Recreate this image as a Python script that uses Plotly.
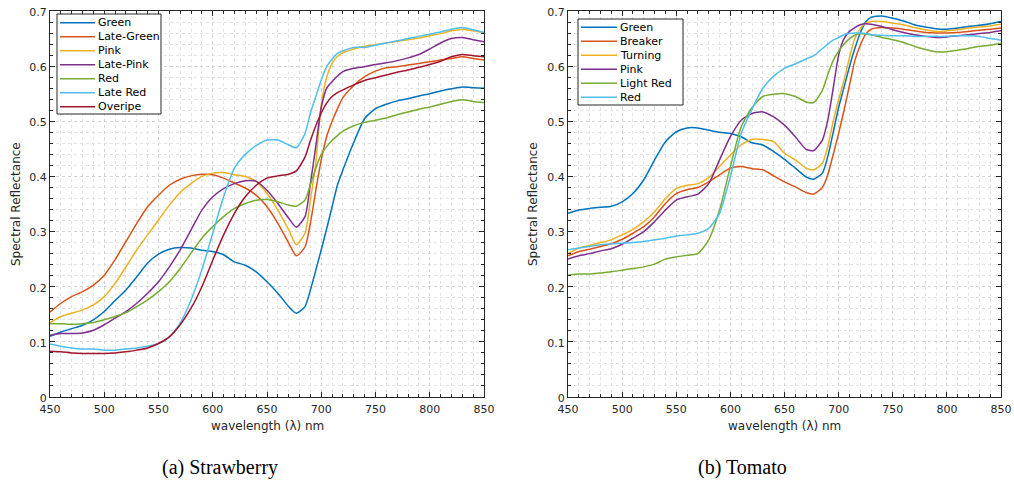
import plotly.graph_objects as go

# ---------------- Strawberry data ----------------
wl_straw = [450, 460, 470, 480, 490, 500, 510, 520, 530, 540, 550, 560, 570, 580, 590,
            600, 610, 620, 630, 640, 650, 660, 670, 677, 685, 690, 695, 700, 705, 710,
            715, 720, 730, 740, 750, 760, 770, 780, 790, 800, 810, 820, 830, 840, 850]

s_green = [.110, .118, .124, .130, .140, .155, .175, .194, .218, .243, .259, .268, .271, .270, .266,
           .264, .258, .245, .239, .227, .209, .188, .164, .152, .164, .194, .230, .267, .305, .345,
           .385, .412, .462, .505, .523, .531, .537, .541, .546, .550, .555, .559, .562, .561, .560]
s_late_green = [.154, .170, .182, .191, .203, .221, .249, .282, .315, .345, .366, .384, .395, .401, .404,
                .403, .397, .388, .379, .366, .345, .315, .279, .256, .272, .315, .375, .430, .472, .500,
                .523, .543, .565, .581, .591, .597, .599, .602, .605, .608, .611, .614, .617, .614, .611]
s_pink = [.135, .146, .152, .158, .167, .182, .206, .236, .267, .294, .321, .348, .371, .387, .400,
          .406, .407, .403, .400, .391, .369, .339, .303, .276, .297, .357, .425, .530, .580, .605,
          .618, .624, .631, .636, .639, .642, .645, .648, .651, .655, .659, .664, .667, .664, .661]
s_late_pink = [.112, .115, .115, .116, .121, .131, .143, .155, .170, .188, .209, .236, .267, .303, .339,
               .363, .378, .387, .392, .391, .375, .351, .324, .308, .327, .387, .455, .525, .560, .572,
               .582, .590, .596, .599, .603, .606, .610, .615, .621, .631, .642, .650, .652, .648, .644]
s_red = [.133, .133, .132, .133, .135, .140, .146, .153, .164, .176, .191, .209, .233, .261, .288,
         .309, .327, .342, .351, .357, .358, .354, .348, .346, .357, .385, .415, .440, .454, .465,
         .474, .482, .492, .498, .502, .506, .512, .517, .522, .526, .531, .536, .539, .536, .534]
s_late_red = [.096, .092, .089, .087, .087, .085, .085, .087, .089, .092, .097, .109, .134, .176, .231,
              .297, .363, .415, .440, .456, .466, .466, .457, .452, .478, .515, .545, .575, .599, .613,
              .623, .628, .634, .634, .638, .642, .646, .650, .654, .658, .662, .667, .670, .666, .661]
s_overipe = [.083, .082, .080, .079, .079, .079, .080, .082, .085, .089, .097, .109, .131, .161, .200,
             .248, .294, .333, .363, .384, .397, .401, .404, .410, .435, .465, .492, .515, .533, .545,
             .552, .557, .566, .574, .579, .584, .589, .593, .598, .603, .609, .617, .621, .619, .617]

straw_names = ["Green", "Late-Green", "Pink", "Late-Pink", "Red", "Late Red", "Overipe"]
straw_series = [s_green, s_late_green, s_pink, s_late_pink, s_red, s_late_red, s_overipe]

# ---------------- Tomato data ----------------
wl_tom = [450, 460, 470, 480, 490, 500, 510, 520, 530, 540, 550, 560, 570, 580, 590,
          600, 610, 620, 630, 640, 650, 660, 670, 677, 685, 690, 695, 700, 705, 710,
          715, 720, 725, 730, 740, 750, 760, 770, 780, 790, 800, 810, 820, 830, 840, 850]

t_green = [.333, .339, .342, .344, .346, .354, .369, .394, .430, .463, .481, .488, .488, .484, .480,
           .478, .472, .461, .457, .445, .431, .415, .399, .395, .406, .436, .480, .525, .562, .599,
           .632, .660, .680, .689, .691, .687, .682, .675, .671, .668, .667, .669, .672, .674, .677, .681]
t_breaker = [.256, .264, .268, .273, .278, .286, .297, .309, .327, .351, .369, .376, .380, .390, .403,
             .415, .418, .414, .412, .401, .390, .381, .371, .368, .380, .403, .440, .478, .520, .565,
             .610, .638, .658, .667, .670, .669, .667, .664, .661, .660, .660, .661, .663, .665, .667, .669]
t_turning = [.260, .270, .275, .280, .285, .294, .304, .318, .336, .360, .378, .384, .387, .398, .418,
             .439, .457, .467, .467, .463, .442, .430, .415, .412, .424, .454, .500, .539, .575, .615,
             .650, .668, .678, .681, .681, .678, .675, .670, .666, .663, .664, .666, .669, .671, .673, .676]
t_pink = [.250, .256, .260, .265, .269, .277, .288, .300, .318, .339, .357, .363, .368, .387, .430,
          .472, .502, .514, .517, .508, .493, .472, .449, .447, .466, .502, .560, .620, .650, .663,
          .670, .675, .677, .676, .672, .666, .661, .657, .654, .652, .653, .655, .657, .659, .661, .664]
t_light_red = [.221, .223, .223, .225, .227, .230, .233, .236, .241, .250, .254, .257, .260, .285, .339,
               .418, .490, .525, .545, .549, .550, .545, .535, .534, .556, .585, .610, .627, .640, .650,
               .656, .659, .658, .657, .652, .648, .643, .636, .630, .626, .626, .629, .632, .636, .638, .641]
t_red = [.267, .270, .273, .276, .278, .279, .280, .282, .285, .288, .292, .294, .297, .306, .333,
         .400, .478, .522, .560, .582, .596, .604, .613, .619, .632, .640, .647, .652, .657, .659,
         .660, .660, .659, .657, .656, .655, .655, .654, .654, .654, .654, .655, .655, .654, .650, .647]

tom_names = ["Green", "Breaker", "Turning", "Pink", "Light Red", "Red"]
tom_series = [t_green, t_breaker, t_turning, t_pink, t_light_red, t_red]

colors = ["#0072BD", "#D95319", "#EDB120", "#7E2F8E", "#77AC30", "#4DBEEE", "#A2142F"]

x_ticks = [450, 500, 550, 600, 650, 700, 750, 800, 850]
y_ticks = [0, 0.1, 0.2, 0.3, 0.4, 0.5, 0.6, 0.7]
y_tick_text = ["0", "0.1", "0.2", "0.3", "0.4", "0.5", "0.6", "0.7"]

fig = go.Figure()

for name, ys, c in zip(straw_names, straw_series, colors):
    fig.add_trace(go.Scatter(x=wl_straw, y=ys, name=name, mode="lines", showlegend=False,
                             line=dict(color=c, width=1.5, shape="spline", smoothing=0.6),
                             xaxis="x", yaxis="y"))
for name, ys, c in zip(tom_names, tom_series, colors):
    fig.add_trace(go.Scatter(x=wl_tom, y=ys, name=name, mode="lines", showlegend=False,
                             line=dict(color=c, width=1.5, shape="spline", smoothing=0.6),
                             xaxis="x2", yaxis="y2"))

W, H = 1014, 489
axc = "#262626"
tickfont = dict(family="DejaVu Sans", size=11, color=axc)


def xax(domain, anchor):
    return dict(domain=domain, anchor=anchor, range=[450, 850], tickvals=x_ticks,
                showline=True, linecolor=axc, linewidth=1, mirror="ticks",
                ticks="inside", ticklen=5, tickcolor=axc, tickfont=tickfont,
                ticklabelstandoff=2,
                showgrid=True, gridcolor="#d4d4d4", griddash="dot", gridwidth=1,
                zeroline=False, automargin=False, ticklabeloverflow="allow",
                minor=dict(dtick=10, ticks="inside", ticklen=3, tickcolor=axc,
                           showgrid=True, gridcolor="#e4e4e4", griddash="dot", gridwidth=1))


def yax(domain, anchor):
    return dict(domain=domain, anchor=anchor, range=[0, 0.7], tickvals=y_ticks, ticktext=y_tick_text,
                showline=True, linecolor=axc, linewidth=1, mirror="ticks",
                ticks="inside", ticklen=5, tickcolor=axc, tickfont=tickfont,
                ticklabelshift=1,
                showgrid=True, gridcolor="#d4d4d4", griddash="dot", gridwidth=1,
                zeroline=False, automargin=False, ticklabeloverflow="allow",
                minor=dict(dtick=0.02, ticks="inside", ticklen=3, tickcolor=axc,
                           showgrid=True, gridcolor="#e4e4e4", griddash="dot", gridwidth=1))


ytop = 1 - 11 / H
ybot = 1 - 397 / H
xd1 = [50 / W, 484 / W]
xd2 = [568 / W, 1001 / W]

fig.update_layout(
    width=W, height=H,
    margin=dict(l=0, r=0, t=0, b=0, autoexpand=False),
    paper_bgcolor="white", plot_bgcolor="white",
    xaxis=xax(xd1, "y"), yaxis=yax([ybot, ytop], "x"),
    xaxis2=xax(xd2, "y2"), yaxis2=yax([ybot, ytop], "x2"),
    showlegend=False,
)

ann_font = dict(family="DejaVu Sans", size=12, color=axc)
cap_font = dict(family="Liberation Serif", size=20, color="#000000")
leg_font = dict(family="DejaVu Sans", size=11, color="#000000")

annotations = [
    dict(text="wavelength (λ) nm", x=(xd1[0] + xd1[1]) / 2, y=1 - 426 / H, xref="paper", yref="paper",
         showarrow=False, font=ann_font, xanchor="center", yanchor="middle"),
    dict(text="wavelength (λ) nm", x=(xd2[0] + xd2[1]) / 2, y=1 - 426 / H, xref="paper", yref="paper",
         showarrow=False, font=ann_font, xanchor="center", yanchor="middle"),
    dict(text="Spectral Reflectance", x=16 / W, y=(ybot + ytop) / 2, xref="paper", yref="paper",
         showarrow=False, font=ann_font, textangle=-90, xanchor="center", yanchor="middle"),
    dict(text="Spectral Reflectance", x=533 / W, y=(ybot + ytop) / 2, xref="paper", yref="paper",
         showarrow=False, font=ann_font, textangle=-90, xanchor="center", yanchor="middle"),
    dict(text="(a) Strawberry", x=220 / W, y=1 - 467 / H, xref="paper", yref="paper",
         showarrow=False, font=cap_font, xanchor="center", yanchor="middle"),
    dict(text="(b) Tomato", x=742 / W, y=1 - 467 / H, xref="paper", yref="paper",
         showarrow=False, font=cap_font, xanchor="center", yanchor="middle"),
]
shapes = []


def add_legend(names, box, line_x, text_x, y0, step):
    # box = (left, top, right, bottom) in pixels
    l, t, r, b = box
    shapes.append(dict(type="rect", xref="paper", yref="paper",
                       x0=l / W, x1=r / W, y0=1 - b / H, y1=1 - t / H,
                       line=dict(color=axc, width=1), fillcolor="white", layer="above"))
    for i, (nm, c) in enumerate(zip(names, colors)):
        yy = y0 + i * step
        shapes.append(dict(type="line", xref="paper", yref="paper",
                           x0=line_x[0] / W, x1=line_x[1] / W, y0=1 - yy / H, y1=1 - yy / H,
                           line=dict(color=c, width=1.5), layer="above"))
        annotations.append(dict(text=nm, x=text_x / W, y=1 - yy / H, xref="paper", yref="paper",
                                showarrow=False, font=leg_font, xanchor="left", yanchor="middle"))


add_legend(straw_names, (57, 14, 161, 114), (60, 95), 96, 22.7, 14.0)
add_legend(tom_names, (578, 19, 683, 105), (581, 617), 617.5, 27.3, 14.0)

fig.update_layout(annotations=annotations, shapes=shapes)

fig.write_html("out.html", config={"displayModeBar": False},
               post_script="document.body.style.margin='0px';document.body.style.padding='0px';")
